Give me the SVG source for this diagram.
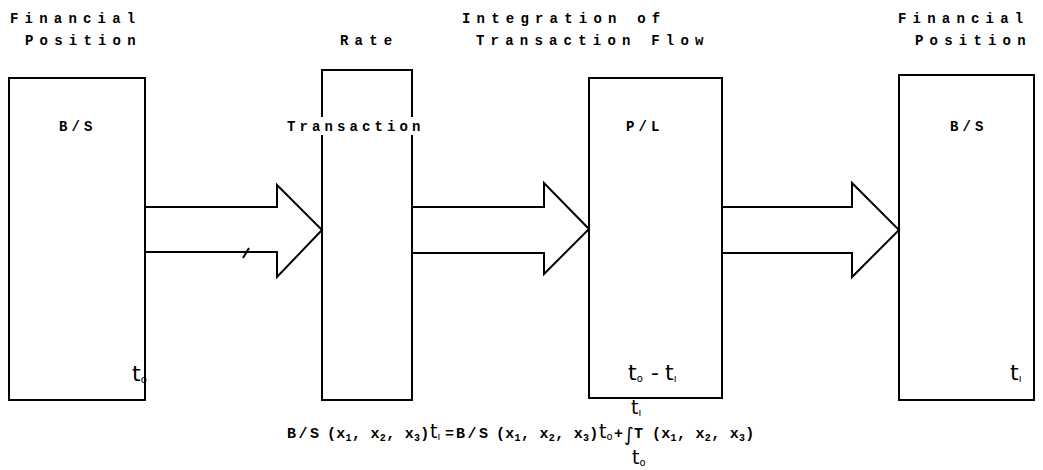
<svg xmlns="http://www.w3.org/2000/svg" width="1043" height="470" viewBox="0 0 1043 470">
<style>
.box{fill:none;stroke:#000;stroke-width:2}
.arr{fill:#fff;stroke:#000;stroke-width:2;stroke-linejoin:miter}
.hd{font-family:"Liberation Mono",monospace;font-weight:bold;font-size:14px;letter-spacing:6.2px;fill:#000}
.bx{font-family:"Liberation Mono",monospace;font-weight:bold;font-size:14px;letter-spacing:4.1px;fill:#000}
.hw{font-family:"DejaVu Sans",sans-serif;font-size:22px;fill:#000}
.hs{font-family:"DejaVu Sans",sans-serif;font-size:19px;fill:#000}
.sb{font-size:10px}
.fm{font-family:"Liberation Mono",monospace;font-weight:bold;font-size:15px;letter-spacing:0.3px;fill:#000}
.fs{font-size:10px}
.fb{font-family:"Liberation Mono",monospace;font-weight:bold;font-size:15px;letter-spacing:2.5px;fill:#000}
</style>
<rect width="1043" height="470" fill="#fff"/>
<g id="n1">
<text class="hd" x="10" y="23">Financial</text>
<text class="hd" x="25" y="45">Position</text>
<rect class="box" x="9" y="78" width="136" height="322"/>
<text class="bx" x="59" y="131">B/S</text>
<text class="hw" x="132" y="381">t<tspan class="sb" dy="2">o</tspan></text>
</g>
<g id="n2">
<text class="hd" x="340" y="45">Rate</text>
<rect class="box" x="322" y="70" width="90" height="330"/>
<rect x="318" y="117" width="100" height="18" fill="#fff"/>
<text class="bx" x="287" y="131">Transaction</text>
</g>
<g id="n3">
<text class="hd" x="462" y="23">Integration of</text>
<text class="hd" x="476" y="45">Transaction Flow</text>
<rect class="box" x="589" y="78" width="133" height="320"/>
<text class="bx" x="626" y="131">P/L</text>
<text class="hw" x="628" y="380">t<tspan class="sb" dy="2">o</tspan></text>
<text class="hw" x="651" y="380">-</text>
<text class="hw" x="665" y="380">t<tspan class="sb" dy="2">ı</tspan></text>
</g>
<g id="n4">
<text class="hd" x="898" y="23">Financial</text>
<text class="hd" x="915" y="45">Position</text>
<rect class="box" x="899" y="75" width="135" height="325"/>
<text class="bx" x="950" y="131">B/S</text>
<text class="hw" x="1010" y="380">t<tspan class="sb" dy="2">ı</tspan></text>
</g>
<g id="connectors">
<polygon class="arr" points="145,207 277,207 277,185 322,230 277,277 277,252 145,252"/>
<line x1="243" y1="258" x2="249" y2="248" stroke="#000" stroke-width="2"/>
<polygon class="arr" points="412,207 544,207 544,183 589,229 544,274 544,253 412,253"/>
<polygon class="arr" points="722,207 852,207 852,183 899,230 852,277 852,253 722,253"/>
</g>
<g id="formula">
<text class="fb" x="287" y="438">B/S</text>
<text class="fm" x="327" y="438">(x<tspan class="fs" dy="3">1</tspan><tspan dy="-3">, x</tspan><tspan class="fs" dy="3">2</tspan><tspan dy="-3">, x</tspan><tspan class="fs" dy="3">3</tspan><tspan dy="-3">)</tspan></text>
<text class="hs" x="430" y="438">t<tspan class="fs" dy="2">ı</tspan></text>
<text class="fm" x="445" y="438">=</text>
<text class="fb" x="456" y="438">B/S</text>
<text class="fm" x="496" y="438">(x<tspan class="fs" dy="3">1</tspan><tspan dy="-3">, x</tspan><tspan class="fs" dy="3">2</tspan><tspan dy="-3">, x</tspan><tspan class="fs" dy="3">3</tspan><tspan dy="-3">)</tspan></text>
<text class="hs" x="599" y="438">t<tspan class="fs" dy="2">o</tspan></text>
<text class="fm" x="614" y="438">+</text>
<text class="hs" font-size="24" x="624" y="441">∫</text>
<text class="fm" x="634" y="438">T</text>
<text class="fm" x="652" y="438">(x<tspan class="fs" dy="3">1</tspan><tspan dy="-3">, x</tspan><tspan class="fs" dy="3">2</tspan><tspan dy="-3">, x</tspan><tspan class="fs" dy="3">3</tspan><tspan dy="-3">)</tspan></text>
<text class="hs" x="631" y="414">t<tspan class="fs" dy="2">ı</tspan></text>
<text class="hs" x="632" y="464">t<tspan class="fs" dy="2">o</tspan></text>
</g>
</svg>
